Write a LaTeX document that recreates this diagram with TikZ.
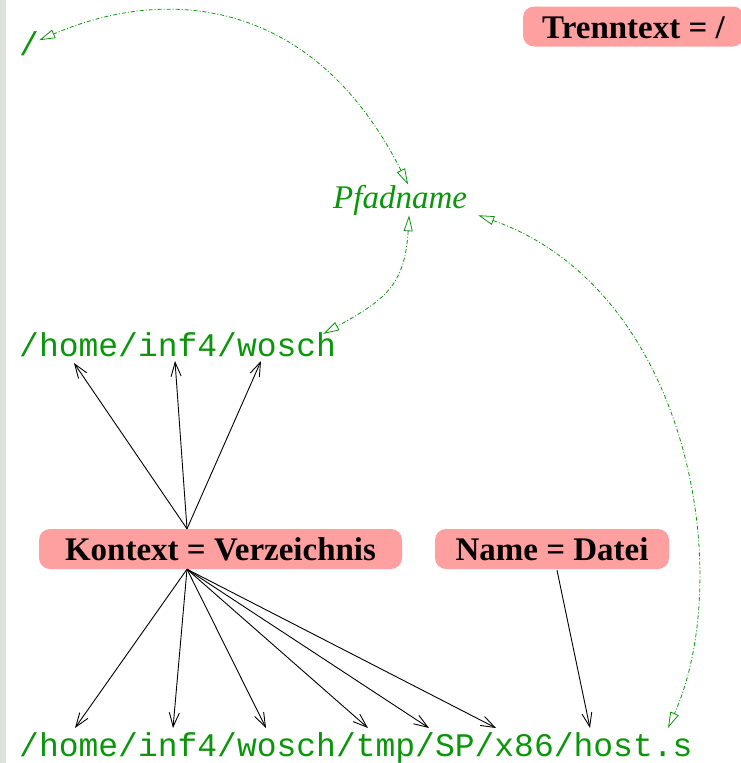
\documentclass[tikz,border=0pt]{standalone}
\usepackage{fontspec}
\setmainfont{Liberation Serif}
\newfontfamily\monof{Liberation Mono}
\usetikzlibrary{arrows.meta}
\definecolor{pinkbox}{RGB}{255,160,160}
\definecolor{figgreen}{RGB}{10,150,10}
\definecolor{barcol}{RGB}{222,226,223}
\tikzset{
  mono/.style={font=\monof\fontsize{33}{40}\selectfont, text=figgreen, inner sep=0pt, anchor=base west},
  ital/.style={font=\itshape\fontsize{33}{40}\selectfont, text=figgreen, inner sep=0pt, anchor=base west},
  pbox/.style={font=\bfseries\fontsize{33}{40}\selectfont, fill=pinkbox, rounded corners=11pt,
    text height=23pt, text depth=0pt, inner ysep=8.5pt, inner xsep=0pt},
  blk/.style={draw=black, line width=0.9pt, -{Straight Barb[length=14pt,width=10pt]}},
  grn/.style={draw=figgreen, line width=0.8pt, dash pattern=on 4pt off 2pt on 1pt off 2pt,
    {Triangle[open,length=16pt,width=9pt]}-{Triangle[open,length=16pt,width=9pt]}}
}
\begin{document}
\begin{tikzpicture}[x=1pt,y=-1pt]
\useasboundingbox (0,0) rectangle (740,763);
\fill[barcol] (0,0) rectangle (6,763);

\node[mono] (slash) at (19,55) {/};
\node[mono] (wosch) at (19,356) {/home/inf4/wosch};
\node[mono] (full) at (19,756) {/home/inf4/wosch/tmp/SP/x86/host.s};
\node[ital] (pfad) at (333,208) {Pfadname};

\node[pbox, minimum width=221pt] (trenn) at (633.5,26.5) {Trenntext = /};
\node[pbox, minimum width=363pt] (kontext) at (220.5,549) {Kontext = Verzeichnis};
\node[pbox, minimum width=234pt] (name) at (552,549) {Name = Datei};

\coordinate (ktop) at ([shift={(-33.5,0)}]kontext.north);
\coordinate (kbot) at ([shift={(-33.5,0)}]kontext.south);

% up arrows to /home/inf4/wosch
\draw[blk] (ktop) -- ([shift={(55,7)}]wosch.base west);
\draw[blk] (ktop) -- ([shift={(156,5)}]wosch.base west);
\draw[blk] (ktop) -- ([shift={(242,5)}]wosch.base west);

% down arrows to full path
\draw[blk] (kbot) -- ([shift={(56,-28)}]full.base west);
\draw[blk] (kbot) -- ([shift={(154,-28)}]full.base west);
\draw[blk] (kbot) -- ([shift={(247,-28)}]full.base west);
\draw[blk] (kbot) -- ([shift={(349,-28)}]full.base west);
\draw[blk] (kbot) -- ([shift={(410,-28)}]full.base west);
\draw[blk] (kbot) -- ([shift={(477,-28)}]full.base west);
\draw[blk] ([shift={(5,1)}]name.south) -- ([shift={(571,-28)}]full.base west);

% green dash-dot arcs
\draw[grn] ([shift={(8,0)}]pfad.north) .. controls (315,0) and (170,-16) .. ([shift={(0,-3)}]slash.east);
\draw[grn] ([shift={(9,0)}]pfad.south) .. controls (405,285) and (385,300) .. ([shift={(-13,2)}]wosch.north east);
\draw[grn] ([shift={(11,0)}]pfad.south east) .. controls (690,290) and (736,576) .. ([shift={(649,-28)}]full.base west);
\end{tikzpicture}
\end{document}
